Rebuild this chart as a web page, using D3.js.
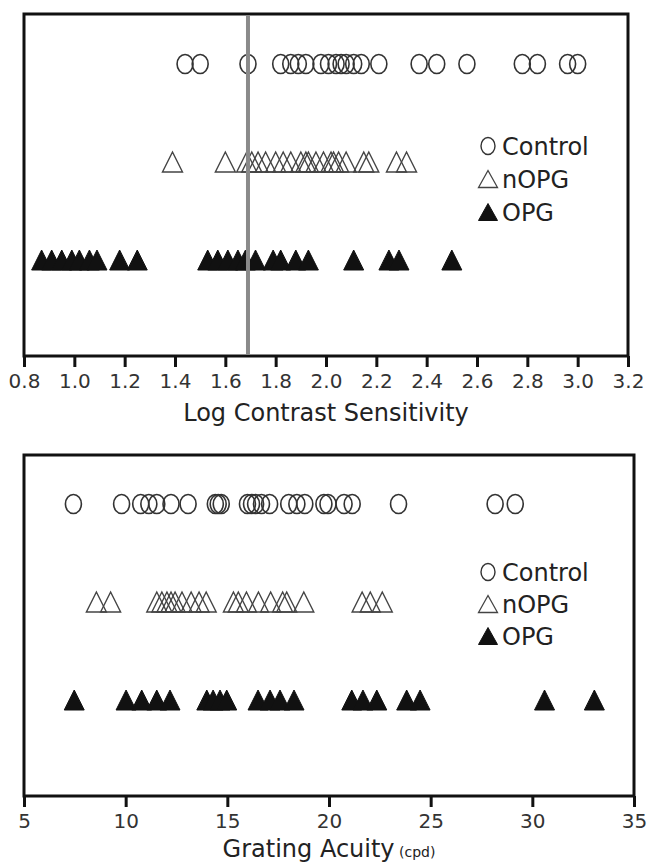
<!DOCTYPE html>
<html>
<head>
<meta charset="utf-8">
<script src="https://cdn.jsdelivr.net/npm/d3@7"></script>
<style>
  body { margin: 0; background: #fff; }
  text { font-family: "DejaVu Sans", Verdana, sans-serif; }
</style>
</head>
<body>
<svg id="vis-svg"></svg>
<script>
// groups, one row each
var groups = ["Control", "nOPG", "OPG"];

// log contrast sensitivity (top panel)
var lcsControl = [1.44, 1.50, 1.69, 1.82, 1.86, 1.89, 1.92, 1.98, 2.01, 2.04, 2.06,
  2.08, 2.11, 2.14, 2.21, 2.37, 2.44, 2.56, 2.78, 2.84, 2.96, 3.00];
var lcsNOPG = [1.39, 1.60, 1.685, 1.705, 1.73, 1.76, 1.80, 1.83, 1.86, 1.90, 1.92,
  1.93, 1.96, 1.99, 2.02, 2.03, 2.05, 2.08, 2.15, 2.17, 2.28, 2.32];
var lcsOPG = [0.87, 0.91, 0.95, 0.99, 1.02, 1.06, 1.09, 1.18, 1.25, 1.53, 1.57,
  1.61, 1.65, 1.68, 1.72, 1.79, 1.82, 1.88, 1.93, 2.11, 2.25, 2.29, 2.50];
var lcsTicks = [0.8, 1.0, 1.2, 1.4, 1.6, 1.8, 2.0, 2.2, 2.4, 2.6, 2.8, 3.0, 3.2];
var lcsCutoff = 1.69;

// grating acuity in cpd (bottom panel)
var acuityControl = [7.43, 9.80, 10.74, 11.14, 11.53, 12.23, 13.07, 14.41, 14.55, 14.70,
  15.99, 16.19, 16.39, 16.68, 17.08, 18.02, 18.42, 18.81, 19.75, 19.95, 20.74, 21.14,
  23.42, 28.17, 29.16];
var acuityNOPG = [8.56, 9.26, 11.53, 11.78, 12.03, 12.23, 12.43, 12.77, 13.22, 13.61,
  13.96, 15.30, 15.54, 15.94, 16.53, 17.13, 17.72, 17.92, 18.76, 21.63, 22.03, 22.62];
var acuityOPG = [7.47, 10.02, 10.79, 11.53, 12.18, 13.99, 14.30, 14.64, 14.97, 16.51,
  17.10, 17.59, 18.28, 21.12, 21.67, 22.35, 23.82, 24.48, 30.6, 33.05];
var acuityTicks = [5, 10, 15, 20, 25, 30, 35];

var width = 653;
var height = 862;

var svg = d3.select('#vis-svg')
  .attr('width', width)
  .attr('height', height);

// triangle path centred on 0,0
function triangle(w, h) {
  return `M0,${-h/2}L${w/2},${h/2}L${-w/2},${h/2}Z`;
}

function drawMarks(g, values, kind, x, y) {
  if (kind === "Control") {
    g.selectAll(null)
      .data(values)
      .enter()
      .append('ellipse')
      .attr('cx', function(d){return x(d);})
      .attr('cy', y)
      .attr('rx', 8)
      .attr('ry', 9.5)
      .attr('fill', 'none')
      .attr('stroke', '#333')
      .attr('stroke-width', 1.6);
  } else {
    g.selectAll(null)
      .data(values)
      .enter()
      .append('path')
      .attr('d', triangle(20, 20))
      .attr('transform', function(d){return `translate(${x(d)},${y})`;})
      .attr('fill', kind === "OPG" ? '#111' : 'none')
      .attr('stroke', kind === "OPG" ? '#111' : '#444')
      .attr('stroke-width', kind === "OPG" ? 1 : 1.4);
  }
}

function drawPanel(p) {
  var g = svg.append('g');

  var x = d3.scaleLinear()
    .domain(p.domain)
    .range([24, p.right]);

  var y = d3.scalePoint()
    .domain(groups)
    .range(p.rows);

  // frame
  g.append('rect')
    .attr('x', x.range()[0])
    .attr('y', p.top)
    .attr('width', x.range()[1] - x.range()[0])
    .attr('height', p.bottom - p.top)
    .attr('fill', 'none')
    .attr('stroke', '#111')
    .attr('stroke-width', 3);

  // axis
  var axis = g.append('g')
    .attr('class', 'x axis')
    .attr('transform', `translate(0,${p.bottom})`)
    .call(d3.axisBottom(x)
      .tickValues(p.ticks)
      .tickFormat(p.format)
      .tickSize(11)
      .tickSizeOuter(0)
      .tickPadding(7));
  axis.select('.domain').remove();
  axis.selectAll('.tick line')
    .attr('stroke', '#111')
    .attr('stroke-width', 3);
  axis.selectAll('.tick text')
    .attr('fill', '#333')
    .style('font-size', '20px');

  // data rows
  drawMarks(g, p.data[0], "Control", x, y("Control"));
  drawMarks(g, p.data[1], "nOPG", x, y("nOPG"));
  drawMarks(g, p.data[2], "OPG", x, y("OPG"));

  if (p.cutoff !== undefined) {
    g.append('line')
      .attr('x1', x(p.cutoff))
      .attr('x2', x(p.cutoff))
      .attr('y1', p.top + 1.5)
      .attr('y2', p.bottom - 1.5)
      .attr('stroke', '#8a8a8a')
      .attr('stroke-width', 4);
  }

  // legend
  var leg = g.append('g');
  groups.forEach(function(name, i) {
    var ly = p.legend[i];
    if (name === "Control") {
      leg.append('ellipse')
        .attr('cx', 488).attr('cy', ly)
        .attr('rx', 7).attr('ry', 8.5)
        .attr('fill', 'none')
        .attr('stroke', '#333')
        .attr('stroke-width', 1.4);
    } else {
      leg.append('path')
        .attr('d', triangle(19, 17))
        .attr('transform', `translate(488,${ly})`)
        .attr('fill', name === "OPG" ? '#111' : 'none')
        .attr('stroke', name === "OPG" ? '#111' : '#444')
        .attr('stroke-width', name === "OPG" ? 1 : 1.3);
    }
    leg.append('text')
      .attr('x', 502)
      .attr('y', ly + 9)
      .attr('fill', '#222')
      .style('font-size', '24px')
      .text(name);
  });

  // axis title
  var t = g.append('text')
    .attr('x', (x.range()[0] + x.range()[1]) / 2)
    .attr('y', p.titleY)
    .attr('text-anchor', 'middle')
    .attr('fill', '#222')
    .style('font-size', '24px')
    .text(p.title);
  if (p.unit) {
    t.append('tspan')
      .style('font-size', '14px')
      .text(' ' + p.unit);
  }
}

drawPanel({
  domain: [0.8, 3.2],
  right: 628,
  top: 14,
  bottom: 356,
  rows: [64, 260],
  ticks: lcsTicks,
  format: d3.format('.1f'),
  data: [lcsControl, lcsNOPG, lcsOPG],
  cutoff: lcsCutoff,
  legend: [146, 179, 212],
  title: "Log Contrast Sensitivity",
  titleY: 421
});

drawPanel({
  domain: [5, 35],
  right: 634,
  top: 455,
  bottom: 796,
  rows: [504, 700],
  ticks: acuityTicks,
  format: d3.format('d'),
  data: [acuityControl, acuityNOPG, acuityOPG],
  legend: [572, 604, 636],
  title: "Grating Acuity",
  unit: "(cpd)",
  titleY: 857
});
</script>
</body>
</html>
